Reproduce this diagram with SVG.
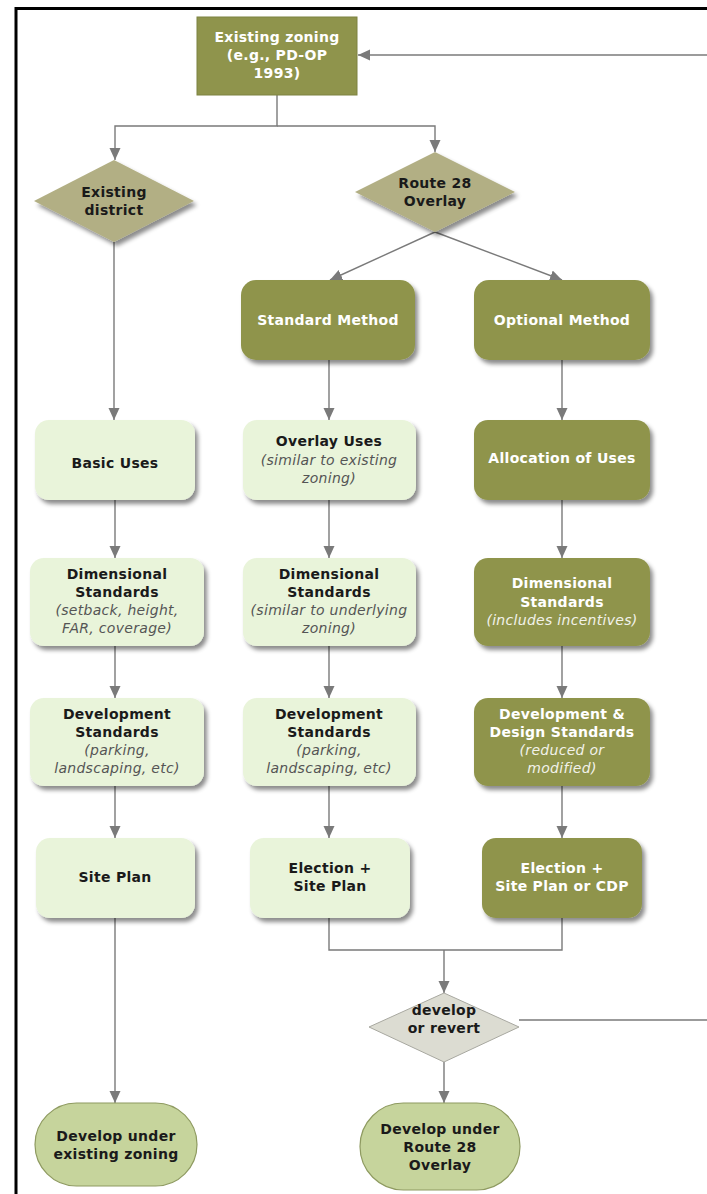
<svg xmlns="http://www.w3.org/2000/svg" width="707" height="1194" viewBox="0 0 707 1194">
<defs>
<marker id="arr" markerUnits="userSpaceOnUse" markerWidth="12" markerHeight="12" viewBox="0 0 12 12" refX="12" refY="6" orient="auto">
<path d="M0,0.5 L12,6 L0,11.5 z" fill="#7a7a7a"/>
</marker>
<filter id="sh" x="-10%" y="-10%" width="130%" height="135%">
<feDropShadow dx="3" dy="4" stdDeviation="2.2" flood-color="#000" flood-opacity="0.45"/>
</filter>
</defs>
<style>
.t{font-family:"DejaVu Sans",Verdana,sans-serif;font-size:14px;letter-spacing:0.3px;font-weight:bold;text-anchor:middle}
.w{fill:#ffffff}
.d{fill:#1a1a1a}
.i{font-family:"DejaVu Sans",Verdana,sans-serif;font-size:14px;letter-spacing:0.3px;font-style:italic;text-anchor:middle}
.iw{fill:#f2f2ea}
.id{fill:#555555}
.olive{fill:#8f944c}
.light{fill:#e9f4da}
.khaki{fill:#b2af84}
.gray{fill:#dcdcd2;stroke:#a8a8a0;stroke-width:1}
.oval{fill:#c6d49c;stroke:#8e9a60;stroke-width:1.2}
.c{fill:none;stroke:#7a7a7a;stroke-width:1.4}
</style>
<rect x="0" y="0" width="707" height="1194" fill="#ffffff"/>
<path d="M16,1194 V8.5 H707" fill="none" stroke="#000" stroke-width="3"/>

<g id="connectors">
<path class="c" d="M707,55 H358" marker-end="url(#arr)"/>
<path class="c" d="M277,95 V126 H115 V160" marker-end="url(#arr)"/>
<path class="c" d="M277,126 H435 V152" marker-end="url(#arr)"/>
<path class="c" d="M114,242 V420" marker-end="url(#arr)"/>
<path class="c" d="M435,232 L330,280" marker-end="url(#arr)"/>
<path class="c" d="M435,232 L562,280" marker-end="url(#arr)"/>
<path class="c" d="M329,360 V420" marker-end="url(#arr)"/>
<path class="c" d="M562,360 V420" marker-end="url(#arr)"/>
<path class="c" d="M115,500 V558" marker-end="url(#arr)"/>
<path class="c" d="M329,500 V558" marker-end="url(#arr)"/>
<path class="c" d="M562,500 V558" marker-end="url(#arr)"/>
<path class="c" d="M115,646 V698" marker-end="url(#arr)"/>
<path class="c" d="M329,646 V698" marker-end="url(#arr)"/>
<path class="c" d="M562,646 V698" marker-end="url(#arr)"/>
<path class="c" d="M115,786 V838" marker-end="url(#arr)"/>
<path class="c" d="M329,786 V838" marker-end="url(#arr)"/>
<path class="c" d="M562,786 V838" marker-end="url(#arr)"/>
<path class="c" d="M115,918 V1103" marker-end="url(#arr)"/>
<path class="c" d="M329,918 V950 H562 V918"/>
<path class="c" d="M444,950 V993" marker-end="url(#arr)"/>
<path class="c" d="M519,1020 H707"/>
<path class="c" d="M444,1062 V1103" marker-end="url(#arr)"/>
</g>

<g id="existing-zoning">
<rect class="olive" x="197" y="17" width="160" height="78" stroke="#7d8240" stroke-width="1"/>
<text class="t w" x="277" y="42">Existing zoning</text>
<text class="t w" x="277" y="60">(e.g., PD-OP</text>
<text class="t w" x="277" y="78">1993)</text>
</g>

<g id="existing-district">
<polygon class="khaki" points="114,160 194,201 114,242 34,201" filter="url(#sh)"/>
<text class="t d" x="114" y="197">Existing</text>
<text class="t d" x="114" y="215">district</text>
</g>

<g id="route28">
<polygon class="khaki" points="435,152 515,192 435,232 355,192" filter="url(#sh)"/>
<text class="t d" x="435" y="188">Route 28</text>
<text class="t d" x="435" y="206">Overlay</text>
</g>

<g id="standard-method">
<rect class="olive" x="241" y="280" width="174" height="80" rx="15" filter="url(#sh)"/>
<text class="t w" x="328" y="325">Standard Method</text>
</g>

<g id="optional-method">
<rect class="olive" x="474" y="280" width="176" height="80" rx="15" filter="url(#sh)"/>
<text class="t w" x="562" y="325">Optional Method</text>
</g>

<g id="basic-uses">
<rect class="light" x="35" y="420" width="160" height="80" rx="14" filter="url(#sh)"/>
<text class="t d" x="115" y="468">Basic Uses</text>
</g>

<g id="overlay-uses">
<rect class="light" x="243" y="420" width="173" height="80" rx="14" filter="url(#sh)"/>
<text class="t d" x="329" y="446">Overlay Uses</text>
<text class="i id" x="329" y="465">(similar to existing</text>
<text class="i id" x="329" y="483">zoning)</text>
</g>

<g id="allocation-uses">
<rect class="olive" x="474" y="420" width="176" height="80" rx="14" filter="url(#sh)"/>
<text class="t w" x="562" y="463">Allocation of Uses</text>
</g>

<g id="dim-left">
<rect class="light" x="30" y="558" width="174" height="88" rx="14" filter="url(#sh)"/>
<text class="t d" x="117" y="579">Dimensional</text>
<text class="t d" x="117" y="597">Standards</text>
<text class="i id" x="117" y="615">(setback, height,</text>
<text class="i id" x="117" y="633">FAR, coverage)</text>
</g>

<g id="dim-mid">
<rect class="light" x="243" y="558" width="173" height="88" rx="14" filter="url(#sh)"/>
<text class="t d" x="329" y="579">Dimensional</text>
<text class="t d" x="329" y="597">Standards</text>
<text class="i id" x="329" y="615">(similar to underlying</text>
<text class="i id" x="329" y="633">zoning)</text>
</g>

<g id="dim-right">
<rect class="olive" x="474" y="558" width="176" height="88" rx="14" filter="url(#sh)"/>
<text class="t w" x="562" y="588">Dimensional</text>
<text class="t w" x="562" y="607">Standards</text>
<text class="i iw" x="562" y="625">(includes incentives)</text>
</g>

<g id="dev-left">
<rect class="light" x="30" y="698" width="174" height="88" rx="14" filter="url(#sh)"/>
<text class="t d" x="117" y="719">Development</text>
<text class="t d" x="117" y="737">Standards</text>
<text class="i id" x="117" y="755">(parking,</text>
<text class="i id" x="117" y="773">landscaping, etc)</text>
</g>

<g id="dev-mid">
<rect class="light" x="243" y="698" width="173" height="88" rx="14" filter="url(#sh)"/>
<text class="t d" x="329" y="719">Development</text>
<text class="t d" x="329" y="737">Standards</text>
<text class="i id" x="329" y="755">(parking,</text>
<text class="i id" x="329" y="773">landscaping, etc)</text>
</g>

<g id="dev-right">
<rect class="olive" x="474" y="698" width="176" height="88" rx="14" filter="url(#sh)"/>
<text class="t w" x="562" y="719">Development &amp;</text>
<text class="t w" x="562" y="737">Design Standards</text>
<text class="i iw" x="562" y="755">(reduced or</text>
<text class="i iw" x="562" y="773">modified)</text>
</g>

<g id="site-plan">
<rect class="light" x="36" y="838" width="159" height="80" rx="14" filter="url(#sh)"/>
<text class="t d" x="115" y="882">Site Plan</text>
</g>

<g id="election-site-plan">
<rect class="light" x="250" y="838" width="160" height="80" rx="14" filter="url(#sh)"/>
<text class="t d" x="330" y="873">Election +</text>
<text class="t d" x="330" y="891">Site Plan</text>
</g>

<g id="election-cdp">
<rect class="olive" x="482" y="838" width="160" height="80" rx="14" filter="url(#sh)"/>
<text class="t w" x="562" y="873">Election +</text>
<text class="t w" x="562" y="891">Site Plan or CDP</text>
</g>

<g id="develop-or-revert">
<polygon class="gray" points="444,993 519,1027 444,1062 369,1027"/>
<text class="t d" x="444" y="1015">develop</text>
<text class="t d" x="444" y="1033">or revert</text>
</g>

<g id="develop-existing">
<rect class="oval" x="35" y="1103" width="162" height="83" rx="41.5"/>
<text class="t d" x="116" y="1141">Develop under</text>
<text class="t d" x="116" y="1159">existing zoning</text>
</g>

<g id="develop-route28">
<rect class="oval" x="360" y="1103" width="160" height="87" rx="43.5"/>
<text class="t d" x="440" y="1134">Develop under</text>
<text class="t d" x="440" y="1152">Route 28</text>
<text class="t d" x="440" y="1170">Overlay</text>
</g>
</svg>
